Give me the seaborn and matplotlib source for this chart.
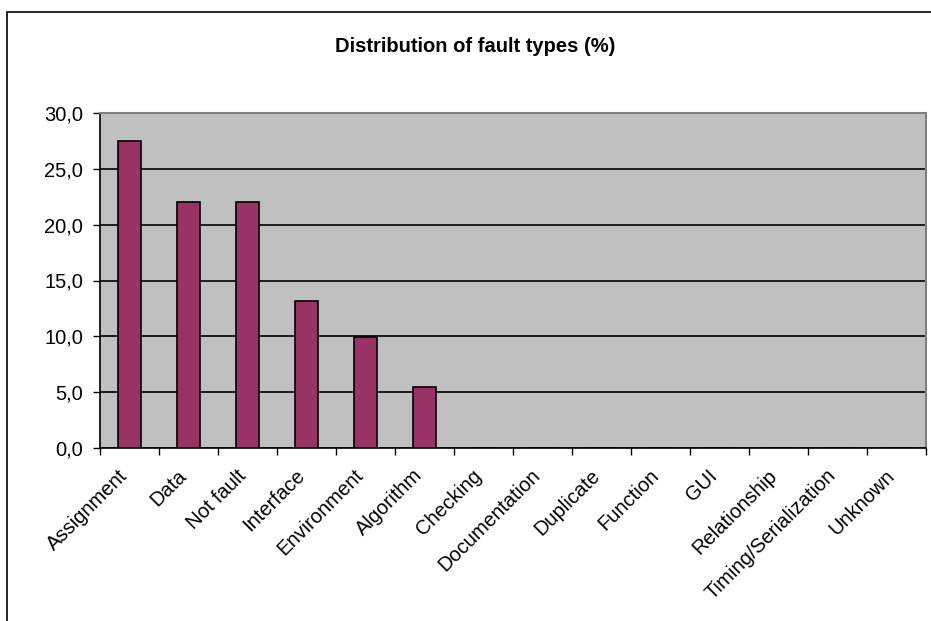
import matplotlib
matplotlib.use("Agg")
import matplotlib.pyplot as plt
from matplotlib.patches import Rectangle
from matplotlib.ticker import FuncFormatter, MultipleLocator
import seaborn as sns
import pandas as pd

# Fault categories and their share of all reported faults (%)
categories = ["Assignment", "Data", "Not fault", "Interface", "Environment",
              "Algorithm", "Checking", "Documentation", "Duplicate", "Function",
              "GUI", "Relationship", "Timing/Serialization", "Unknown"]
percentages = [27.5, 22.0, 22.0, 13.2, 9.9, 5.5, 0, 0, 0, 0, 0, 0, 0, 0]

df = pd.DataFrame({"category": categories, "percent": percentages})

sns.set_theme(style="white")
plt.rcParams["font.family"] = ["Liberation Sans", "DejaVu Sans"]
plt.rcParams["text.color"] = "black"
plt.rcParams["xtick.color"] = "black"
plt.rcParams["ytick.color"] = "black"

fig = plt.figure(figsize=(9.31, 6.21), dpi=100)
fig.patch.set_facecolor("white")
ax = fig.add_axes([100 / 931, 1 - 448 / 621, 826 / 931, 335 / 621])

sns.barplot(data=df, x="category", y="percent", color="#993366",
            edgecolor="black", linewidth=1.2, width=0.4, saturation=1,
            ax=ax, zorder=3)

ax.set_facecolor("#C0C0C0")
ax.set_xlim(-0.5, len(categories) - 0.5)
ax.set_ylim(0, 30)
ax.yaxis.set_major_locator(MultipleLocator(5))
ax.yaxis.set_major_formatter(FuncFormatter(lambda v, _: f"{v:.1f}".replace(".", ",")))
ax.grid(axis="y", color="black", linewidth=1.2, zorder=1)
ax.set_axisbelow(True)

# Category tick marks sit on the boundaries between categories
ax.set_xticks([i - 0.5 for i in range(len(categories) + 1)])
ax.set_xticklabels([])
ax.tick_params(axis="x", which="major", direction="out", length=5, width=1,
               color="black", bottom=True)
ax.tick_params(axis="y", direction="out", length=5, width=1, color="black",
               left=True, labelsize=14.5, labelcolor="black", pad=7)

for i, name in enumerate(categories):
    ax.text(i - 0.08, -2.2, name, rotation=45, rotation_mode="anchor",
            ha="right", va="center", fontsize=14.5, color="black")

ax.set_xlabel("")
ax.set_ylabel("")

for side in ("left", "bottom"):
    ax.spines[side].set_color("black")
    ax.spines[side].set_linewidth(1.2)
for side in ("top", "right"):
    ax.spines[side].set_color("#808080")
    ax.spines[side].set_linewidth(1.5)

fig.text(475 / 931, 1 - 46 / 621, "Distribution of fault types (%)",
         ha="center", va="center", fontsize=14.5, fontweight="bold",
         color="black")

# Chart-area frame
fig.patches.append(Rectangle((6.5 / 931, -0.1), 1.2, 1 - 11.5 / 621 + 0.1,
                             transform=fig.transFigure, fill=False,
                             edgecolor="black", linewidth=1.2, clip_on=False))

fig.savefig("out.png", dpi=100)
